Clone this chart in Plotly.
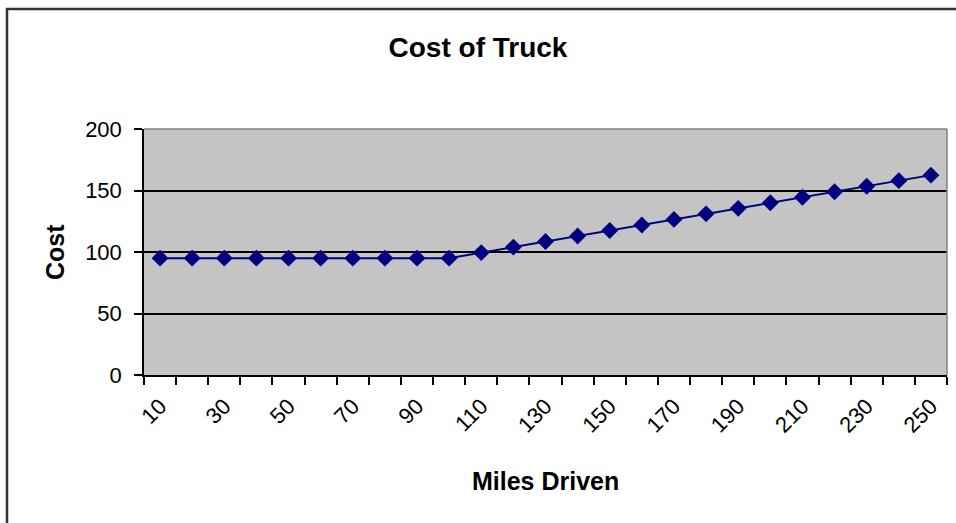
import plotly.graph_objects as go

# Truck rental cost by miles driven
miles = [10, 20, 30, 40, 50, 60, 70, 80, 90, 100, 110, 120, 130,
         140, 150, 160, 170, 180, 190, 200, 210, 220, 230, 240, 250]
cost = [95, 95, 95, 95, 95, 95, 95, 95, 95, 95, 99.5, 104, 108.5,
        113, 117.5, 122, 126.5, 131, 135.5, 140, 144.5, 149, 153.5, 158, 162.5]
x_labels = [10, 30, 50, 70, 90, 110, 130, 150, 170, 190, 210, 230, 250]
y_ticks = [0, 50, 100, 150, 200]

W, H = 956, 523
L, R, T, B = 144, 9, 129, 148
PW, PH = W - L - R, H - T - B

FONT = "Liberation Sans, Arial, sans-serif"
NAVY = "#000080"

# category boundaries for the x tick marks
step = miles[1] - miles[0]
bounds = [m - step / 2 for m in miles] + [miles[-1] + step / 2]

fig = go.Figure(
    go.Scatter(
        x=miles, y=cost, mode="lines+markers",
        line=dict(color=NAVY, width=2),
        marker=dict(symbol="diamond", size=13, color=NAVY),
        showlegend=False,
    )
)

fig.update_xaxes(
    range=[bounds[0], bounds[-1]],
    tickvals=x_labels, ticktext=[str(v) for v in x_labels],
    tickangle=-45, ticks="outside", ticklen=8, tickcolor="rgba(0,0,0,0)",
    tickfont=dict(family=FONT, size=22, color="black"),
    showline=True, linecolor="black", linewidth=1.5,
    showgrid=False, zeroline=False,
    minor=dict(tickvals=bounds, ticks="outside", ticklen=8,
               tickcolor="black", tickwidth=1.5, showgrid=False),
)
fig.update_yaxes(
    range=[0, 200], tickvals=y_ticks,
    ticks="outside", ticklen=8, tickcolor="black", tickwidth=1.5,
    ticklabelstandoff=8,
    tickfont=dict(family=FONT, size=22, color="black"),
    showline=True, linecolor="black", linewidth=1.5,
    showgrid=True, gridcolor="black", gridwidth=1.5, zeroline=False,
)


def px_x(p):
    return (p - L) / PW


def px_y(p):
    return (H - B - p) / PH


shapes = [
    # grey frame on the top and right of the plot area
    dict(type="line", xref="paper", yref="paper", x0=0, x1=1, y0=1, y1=1,
         line=dict(color="#808080", width=1.5), layer="above"),
    dict(type="line", xref="paper", yref="paper", x0=1, x1=1, y0=0, y1=1,
         line=dict(color="#808080", width=1.5), layer="above"),
    # outer chart border
    dict(type="rect", xref="paper", yref="paper",
         x0=px_x(7), x1=px_x(W + 20), y0=px_y(H + 20), y1=px_y(9),
         line=dict(color="#333333", width=2.5), layer="above"),
]

annotations = [
    dict(text="<b>Miles Driven</b>", xref="paper", yref="paper",
         x=0.5, y=px_y(481), showarrow=False, xanchor="center", yanchor="middle",
         font=dict(family=FONT, size=25, color="black")),
    dict(text="<b>Cost</b>", xref="paper", yref="paper",
         x=px_x(55), y=0.5, showarrow=False, textangle=-90,
         xanchor="center", yanchor="middle",
         font=dict(family=FONT, size=25, color="black")),
]

fig.update_layout(
    width=W, height=H,
    margin=dict(l=L, r=R, t=T, b=B, autoexpand=False),
    paper_bgcolor="white", plot_bgcolor="#c4c4c4",
    title=dict(text="<b>Cost of Truck</b>", x=0.5, xref="container",
               xanchor="center", y=1 - 47 / H, yanchor="middle",
               font=dict(family=FONT, size=28, color="black")),
    shapes=shapes, annotations=annotations,
)

fig.write_html("out.html")
